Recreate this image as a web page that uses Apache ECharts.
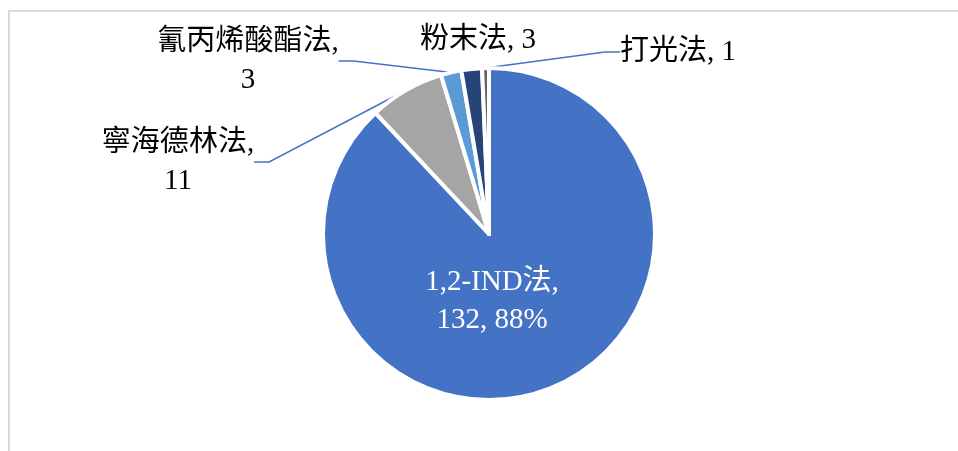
<!DOCTYPE html>
<html>
<head>
<meta charset="utf-8">
<script src="https://cdn.jsdelivr.net/npm/echarts@6/dist/echarts.min.js"></script>
<style>
  html, body { margin: 0; padding: 0; background: #fff; }
  #main { width: 958px; height: 451px; }
</style>
</head>
<body>
<div id="main"></div>
<script>
// 数据
const methods = ['1,2-IND法', '寧海德林法', '氰丙烯酸酯法', '粉末法', '打光法'];
const counts = [132, 11, 3, 3, 1];
const colors = ['#4472C4', '#A5A5A5', '#5B9BD5', '#264478', '#636363'];

// 标签位置（画布坐标）
const labelPos = [
  [492, 301],
  [178, 162],
  [248, 61],
  [478, 40],
  [678, 52]
];

const fontStack = "'Liberation Serif', 'Noto Sans CJK SC', serif";

const chart = echarts.init(document.getElementById('main'));

const option = {
  animation: false,
  graphic: [
    {
      type: 'rect',
      shape: { x: 9, y: 11, width: 1000, height: 600 },
      style: { fill: 'none', stroke: '#d9d9d9', lineWidth: 2 },
      silent: true
    }
  ],
  series: [
    {
      type: 'pie',
      center: [489, 234],
      radius: [0, 166],
      startAngle: 90,
      clockwise: true,
      avoidLabelOverlap: false,
      itemStyle: { borderColor: '#fff', borderWidth: 4 },
      label: {
        show: true,
        position: 'outside',
        color: '#000',
        fontFamily: fontStack,
        fontSize: 29,
        lineHeight: 38,
        align: 'center',
        formatter: function (p) {
          if (p.dataIndex === 0) return p.name + ',\n' + p.value + ', ' + Math.round(p.percent) + '%';
          if (p.dataIndex === 1 || p.dataIndex === 2) return p.name + ',\n' + p.value;
          return p.name + ', ' + p.value;
        }
      },
      labelLine: {
        show: true,
        length: 20,
        length2: 15,
        lineStyle: { color: '#4472C4', width: 1.5 }
      },
      labelLayout: function (params) {
        const pos = labelPos[params.dataIndex];
        return { x: pos[0], y: pos[1], align: 'center', verticalAlign: 'middle' };
      },
      data: methods.map(function (name, i) {
        const item = { name: name, value: counts[i], itemStyle: { color: colors[i] } };
        if (i === 0) {
          item.label = { position: 'inside', color: '#fff' };
          item.labelLine = { show: false };
        }
        if (i === 3) {
          item.labelLine = { show: false };
        }
        return item;
      })
    }
  ]
};

chart.setOption(option);
</script>
</body>
</html>
